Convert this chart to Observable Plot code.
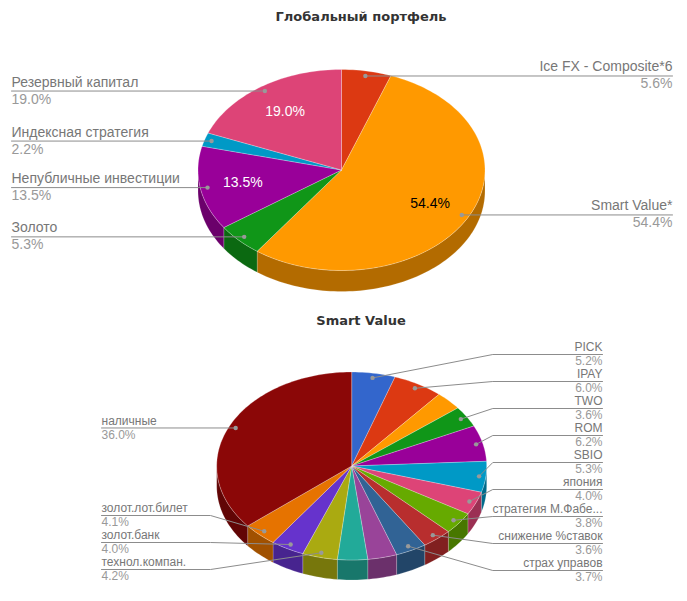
<!DOCTYPE html>
<html><head><meta charset="utf-8">
<script src="https://cdn.jsdelivr.net/npm/d3@7"></script>
<script src="https://cdn.jsdelivr.net/npm/@observablehq/plot@0.6"></script>
<style>html,body{margin:0;padding:0;background:#fff}svg{display:block}</style>
</head><body><div id="chart"></div>
<script>
const globalNames = ["Ice FX - Composite*6","Smart Value*","Золото","Непубличные инвестиции","Индексная стратегия","Резервный капитал"];
const globalValues = [5.6,54.4,5.3,13.5,2.2,19.0];
const globalColors = ["#dc3912","#ff9900","#109618","#990099","#0099c6","#dd4477"];

const smartNames = ["PICK","IPAY",null,"TWO","ROM","SBIO","япония","стратегия М.Фабе...","снижение %ставок","страх управов",null,null,"технол.компан.","золот.банк","золот.лот.билет","наличные"];
const smartValues = [5.2,6.0,3.2,3.6,6.2,5.3,4.0,3.8,3.6,3.7,3.5,3.6,4.2,4.0,4.1,36.0];
const smartColors = ["#3366cc","#dc3912","#ff9900","#109618","#990099","#0099c6","#dd4477","#66aa00","#b82e2e","#316395","#994499","#22aa99","#aaaa11","#6633cc","#e67300","#8b0707"];

const FONT = "'Liberation Sans', sans-serif";
const TXT = "#777", VAL = "#999", LINE = "#8c8c8c";
const STEP = 1.5; // degrees between outline samples

function shade(c){const k=d3.rgb(c);return d3.rgb(k.r*0.7,k.g*0.7,k.b*0.7).formatHex();}

function build(names,values,colors,g,id){
  const total=d3.sum(values);
  const pt=(deg,f=1,dz=0)=>{const t=deg*Math.PI/180;return {x:g.cx+g.rx*f*Math.sin(t),y:g.cy-g.ry*f*Math.cos(t)+dz};};
  const tops=[],sides=[],slices=[];
  let acc=0;
  values.forEach((v,i)=>{
    const a=acc/total*360,b=(acc+v)/total*360,m=(a+b)/2;acc+=v;
    const key=id+"-"+i;
    slices.push({name:names[i],value:v,mid:m,dot:pt(m,0.95),inner:pt(m,0.7)});
    const arc=[];for(let d=a;d<b;d+=STEP)arc.push(d);arc.push(b);
    const poly=[{x:g.cx,y:g.cy},...arc.map(d=>pt(d)),{x:g.cx,y:g.cy}];
    poly.forEach(p=>tops.push({...p,key,fill:colors[i]}));
    const lo=Math.max(a,90),hi=Math.min(b,270);
    if(lo<hi){
      const s=[];for(let d=lo;d<hi;d+=STEP)s.push(d);s.push(hi);
      const ring=[...s.map(d=>pt(d)),...s.slice().reverse().map(d=>pt(d,1,g.depth))];
      ring.push(ring[0]);
      ring.forEach(p=>sides.push({...p,key,fill:shade(colors[i])}));
    }
  });
  return {tops,sides,slices};
}

const A=build(globalNames,globalValues,globalColors,{cx:341,cy:169.5,rx:143.5,ry:100.5,depth:21},"g");
const B=build(smartNames,smartValues,smartColors,{cx:351.2,cy:465.5,rx:135,ry:94,depth:20},"s");

const labels=[];
const leaders=[];
function addLabel(s,textX,lineY,anchor,elbowX,size,gapUp,gapDown,key){
  const v=s.value.toFixed(1)+"%";
  labels.push({x:textX,y:lineY-gapUp,t:s.name,c:TXT,anchor,size});
  labels.push({x:textX,y:lineY+gapDown,t:v,c:VAL,anchor,size});
  const pts=[{x:textX,y:lineY},...(elbowX==null?[]:[{x:elbowX,y:lineY}]),{x:s.dot.x,y:s.dot.y}];
  pts.forEach(p=>leaders.push({...p,key}));
}
A.slices.forEach((s,i)=>{
  const right=s.mid<180;
  addLabel(s,right?672:11,s.dot.y,right?"end":"start",null,14,9,8,"a"+i);
});
let rightRow=0,leftRow=0;
B.slices.forEach((s,i)=>{
  if(!s.name)return;
  if(s.mid<180){addLabel(s,602,354+27*rightRow,"end",492.3,12,7,7,"b"+i);rightRow++;}
  else if(s.value>20){addLabel(s,101,s.dot.y,"start",null,12,7,7,"b"+i);}
  else{addLabel(s,101,515+27*(2-leftRow),"start",210,12,7,7,"b"+i);leftRow++;}
});

const inner=A.slices.filter(s=>s.value>=10).map(s=>({x:s.inner.x,y:s.inner.y,t:s.value.toFixed(1)+"%",c:s.value>50?"#000":"#fff"}));
const titles=[{x:360.5,y:16.5,t:"Глобальный портфель"},{x:360.5,y:320,t:"Smart Value"}];
const dots=[...A.slices,...B.slices].filter(s=>s.name).map(s=>s.dot);
const sides=[...A.sides,...B.sides],tops=[...A.tops,...B.tops];

const fig=Plot.plot({
  width:687,height:601,margin:0,
  style:{background:"#fff",fontFamily:FONT},
  x:{domain:[0,687],range:[0,687],axis:null},
  y:{domain:[0,601],range:[0,601],axis:null},
  marks:[
    Plot.line(sides,{x:"x",y:"y",z:"key",fill:"fill",stroke:"#fff",strokeOpacity:0.18,strokeWidth:1,curve:"linear"}),
    Plot.line(tops,{x:"x",y:"y",z:"key",fill:"fill",stroke:"#fff",strokeOpacity:0.25,strokeWidth:1,curve:"linear"}),
    Plot.line(leaders,{x:"x",y:"y",z:"key",stroke:LINE,strokeWidth:1,curve:"linear"}),
    Plot.dot(dots,{x:"x",y:"y",r:2.2,fill:"#999",stroke:null}),
    Plot.text(labels.filter(d=>d.anchor==="start"&&d.size===14),{x:"x",y:"y",text:"t",fill:"c",textAnchor:"start",fontSize:14,fontFamily:FONT}),
    Plot.text(labels.filter(d=>d.anchor==="end"&&d.size===14),{x:"x",y:"y",text:"t",fill:"c",textAnchor:"end",fontSize:14,fontFamily:FONT}),
    Plot.text(labels.filter(d=>d.anchor==="start"&&d.size===12),{x:"x",y:"y",text:"t",fill:"c",textAnchor:"start",fontSize:12,fontFamily:FONT}),
    Plot.text(labels.filter(d=>d.anchor==="end"&&d.size===12),{x:"x",y:"y",text:"t",fill:"c",textAnchor:"end",fontSize:12,fontFamily:FONT}),
    Plot.text(inner,{x:"x",y:"y",text:"t",fill:"c",fontSize:14,fontFamily:FONT}),
    Plot.text(titles,{x:"x",y:"y",text:"t",fill:"#333",fontSize:13,fontWeight:"bold",fontFamily:"'DejaVu Sans', sans-serif"})
  ]
});
document.getElementById("chart").append(fig);
</script></body></html>
